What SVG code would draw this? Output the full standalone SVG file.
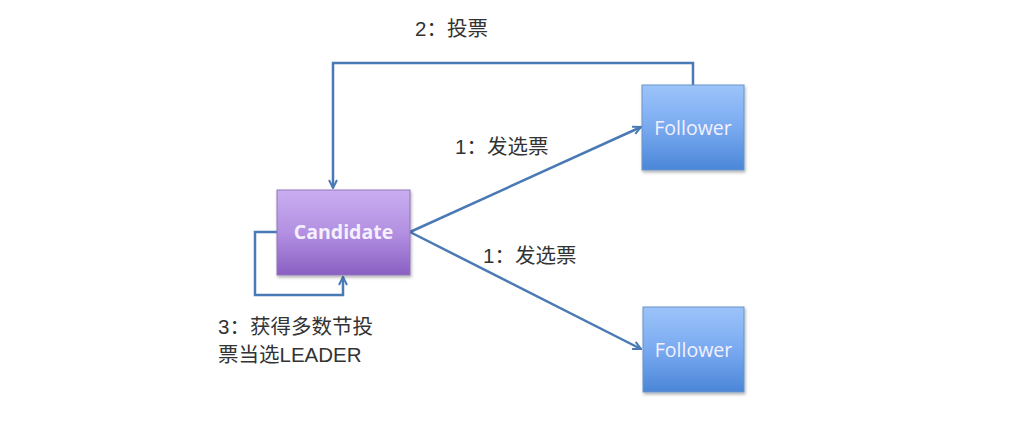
<svg xmlns="http://www.w3.org/2000/svg" width="1021" height="422" viewBox="0 0 1021 422">
<defs>
<linearGradient id="gPurple" x1="0" y1="0" x2="0" y2="1">
<stop offset="0" stop-color="#c9aef0"/>
<stop offset="0.5" stop-color="#b390e2"/>
<stop offset="1" stop-color="#8a5fc2"/>
</linearGradient>
<linearGradient id="gBlue" x1="0" y1="0" x2="0" y2="1">
<stop offset="0" stop-color="#9cc4fa"/>
<stop offset="0.5" stop-color="#79aaf0"/>
<stop offset="1" stop-color="#4b86d8"/>
</linearGradient>
<marker id="arr" viewBox="0 0 10 10" refX="9" refY="5" markerWidth="10" markerHeight="10" markerUnits="userSpaceOnUse" orient="auto">
<path d="M1,1 L9,5 L1,9" fill="none" stroke="#4a7ab5" stroke-width="2"/>
</marker>
<filter id="sh" x="-10%" y="-10%" width="130%" height="130%">
<feDropShadow dx="1" dy="2" stdDeviation="1.5" flood-color="#000" flood-opacity="0.3"/>
</filter>
</defs>
<style>
.lbl{font-family:"Liberation Sans","Noto Sans CJK SC",sans-serif;font-size:20.5px;fill:#333}
.node{font-family:"Open Sans","Liberation Sans",sans-serif;font-size:19.5px;fill:#f4f0ff}
.conn{fill:none;stroke:#4a7ab5;stroke-width:2.5}
</style>
<rect width="1021" height="422" fill="#ffffff"/>
<g id="connectors">
<polyline class="conn" points="693,85 693,63 333,63 333,188" marker-end="url(#arr)"/>
<polyline class="conn" points="277,232 255,232 255,295 343,295 343,277" marker-end="url(#arr)"/>
<line class="conn" x1="410" y1="232" x2="641" y2="127" marker-end="url(#arr)"/>
<line class="conn" x1="410" y1="232" x2="641" y2="349" marker-end="url(#arr)"/>
</g>
<g id="candidate">
<rect x="277" y="190" width="133" height="85" fill="url(#gPurple)" stroke="#8f76b8" stroke-width="1" filter="url(#sh)"/>
<text class="node" x="343.5" y="239" text-anchor="middle" font-weight="bold" font-size="18.5px">Candidate</text>
</g>
<g id="follower1">
<rect x="642" y="85" width="102" height="85" fill="url(#gBlue)" stroke="#6a93c8" stroke-width="1" filter="url(#sh)"/>
<text class="node" x="693" y="135" text-anchor="middle">Follower</text>
</g>
<g id="follower2">
<rect x="643" y="307" width="101" height="85" fill="url(#gBlue)" stroke="#6a93c8" stroke-width="1" filter="url(#sh)"/>
<text class="node" x="693.5" y="357" text-anchor="middle">Follower</text>
</g>
<g id="labels">
<text class="lbl" x="415" y="36">2：投票</text>
<text class="lbl" x="455" y="154">1：发选票</text>
<text class="lbl" x="483" y="263">1：发选票</text>
<text class="lbl" x="218" y="334">3：获得多数节投</text>
<text class="lbl" x="218" y="362">票当选LEADER</text>
</g>
</svg>
